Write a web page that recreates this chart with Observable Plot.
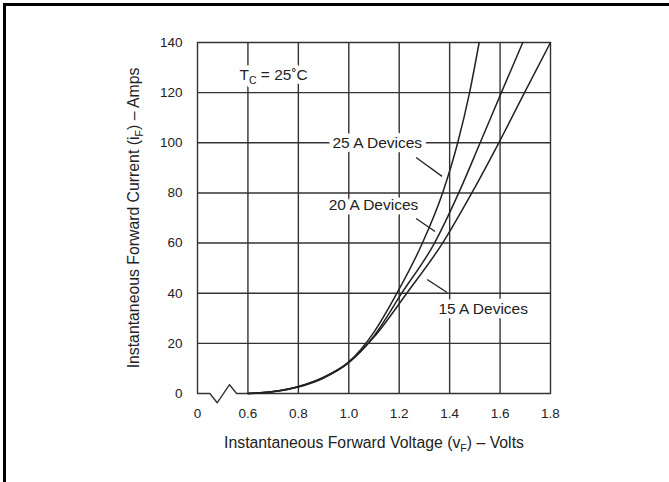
<!DOCTYPE html>
<html><head><meta charset="utf-8">
<script src="https://cdn.jsdelivr.net/npm/d3@7"></script>
<script src="https://cdn.jsdelivr.net/npm/@observablehq/plot@0.6"></script>
<style>
body{margin:0;background:#fff;}
#wrap{position:relative;width:669px;height:482px;overflow:hidden;background:#fff;}
#border{position:absolute;left:3px;top:3px;width:700px;height:500px;border-top:3px solid #000;border-left:3px solid #000;pointer-events:none;}
</style></head><body><div id="wrap"><div id="chart"></div><div id="border"></div></div>
<script>
// ---- data ----
const seriesNames = ["25 A Devices", "20 A Devices", "15 A Devices"];
const v25 = [0.6, 0.7, 0.8, 0.9, 1.0, 1.1, 1.191, 1.292, 1.372, 1.432, 1.479, 1.517];
const i25 = [0, 0.8, 2.8, 6.5, 12.6, 24.5, 40, 60, 80, 100, 120, 140];
const v20 = [0.6, 0.7, 0.8, 0.9, 1.0, 1.1, 1.210, 1.340, 1.436, 1.521, 1.605, 1.690];
const i20 = [0, 0.8, 2.7, 6.3, 12.4, 23, 40, 60, 80, 100, 120, 140];
const v15 = [0.6, 0.7, 0.8, 0.9, 1.0, 1.1, 1.230, 1.372, 1.488, 1.595, 1.697, 1.8];
const i15 = [0, 0.7, 2.6, 6.2, 12.3, 22.5, 40, 60, 80, 100, 120, 140];

const xTickValues = [0.4, 0.6, 0.8, 1.0, 1.2, 1.4, 1.6, 1.8];
const xTickLabels = ["0", "0.6", "0.8", "1.0", "1.2", "1.4", "1.6", "1.8"];
const yTickValues = [0, 20, 40, 60, 80, 100, 120, 140];
const yTickLabels = ["0", "20", "40", "60", "80", "100", "120", "140"];
const xGridValues = [0.6, 0.8, 1.0, 1.2, 1.4, 1.6];
const yGridValues = [20, 40, 60, 80, 100, 120];

// broken bottom axis (zig-zag between 0 and 0.6)
const breakV = [0.4, 0.449, 0.478, 0.527, 0.555, 1.8];
const breakI = [0, 0, -3.7, 3.5, 0, 0];

// annotations
const noteText = ["T_C = 25˚C", "25 A Devices", "20 A Devices", "15 A Devices"];
const noteV = [0.702, 1.113, 1.098, 1.533];
const noteI = [127.2, 100, 75.2, 33.5];
const leaderV1 = [1.267, 1.267, 1.311];
const leaderI1 = [94.1, 69.8, 45.5];
const leaderV2 = [1.370, 1.342, 1.390];
const leaderI2 = [86.6, 64.6, 40.3];

const xLabel = "Instantaneous Forward Voltage (v_F) – Volts";
const yLabel = "Instantaneous Forward Current (i_F) – Amps";

// ---- build tables ----
const curves = [];
[[v25, i25], [v20, i20], [v15, i15]].forEach(([vs, is], k) => {
  vs.forEach((v, j) => curves.push({series: seriesNames[k], v, i: is[j]}));
});
const breakLine = breakV.map((v, j) => ({v, i: breakI[j]}));
const notes = noteText.map((t, j) => ({t, v: noteV[j], i: noteI[j]}));
const leaders = leaderV1.map((v, j) => ({v1: v, i1: leaderI1[j], v2: leaderV2[j], i2: leaderI2[j]}));
const xTicks = xTickValues.map((v, j) => ({v, t: xTickLabels[j]}));
const yTicks = yTickValues.map((i, j) => ({i, t: yTickLabels[j]}));

const ink = "#333";
const chart = Plot.plot({
  width: 669,
  height: 482,
  marginLeft: 197,
  marginRight: 119,
  marginTop: 42,
  marginBottom: 89,
  style: {fontFamily: "'Liberation Sans', Arial, sans-serif", fontSize: "13.5px", color: "#222", background: "#fff"},
  x: {domain: [0.4, 1.8], axis: null},
  y: {domain: [0, 140], axis: null},
  marks: [
    Plot.ruleX(xGridValues, {stroke: ink, strokeWidth: 1.4}),
    Plot.ruleY(yGridValues, {stroke: ink, strokeWidth: 1.4}),
    Plot.ruleY([140], {stroke: ink, strokeWidth: 1.4}),
    Plot.ruleX([0.4, 1.8], {stroke: ink, strokeWidth: 1.4}),
    Plot.line(breakLine, {x: "v", y: "i", stroke: ink, strokeWidth: 1.4}),
    Plot.text(notes, {x: "v", y: "i", text: "t", fill: "#222", stroke: "white", strokeWidth: 9, fontSize: 15.5}),
    Plot.link(leaders, {x1: "v1", y1: "i1", x2: "v2", y2: "i2", stroke: "#222", strokeWidth: 1.3}),
    Plot.line(curves, {x: "v", y: "i", z: "series", curve: "monotone-x", stroke: "#222", strokeWidth: 1.5}),
    Plot.text(yTicks, {x: 0.4, y: "i", text: "t", dx: -15, textAnchor: "end", fill: "#222"}),
    Plot.text(xTicks, {x: "v", y: 0, text: "t", dy: 20, fill: "#222"}),
    Plot.text([xLabel], {frameAnchor: "bottom", dy: 54, textAnchor: "middle", text: d => d, fill: "#222", fontSize: 15.8}),
    Plot.text([yLabel], {frameAnchor: "left", dx: -64, textAnchor: "middle", rotate: -90, text: d => d, fill: "#222", fontSize: 15.8})
  ]
});

// subscripts: "_X" -> subscript X
d3.select(chart).selectAll("text").each(function () {
  const el = d3.select(this);
  if (el.selectAll("tspan").size() > 0) return;
  const s = this.textContent;
  if (!s.includes("_")) return;
  const m = s.match(/^(.*)_(\w)(.*)$/);
  if (!m) return;
  el.text(null);
  el.append("tspan").text(m[1]);
  el.append("tspan").attr("dy", 4).attr("font-size", "0.68em").text(m[2]);
  el.append("tspan").attr("dy", -4).text(m[3]);
});

document.getElementById("chart").appendChild(chart);
</script></body></html>
